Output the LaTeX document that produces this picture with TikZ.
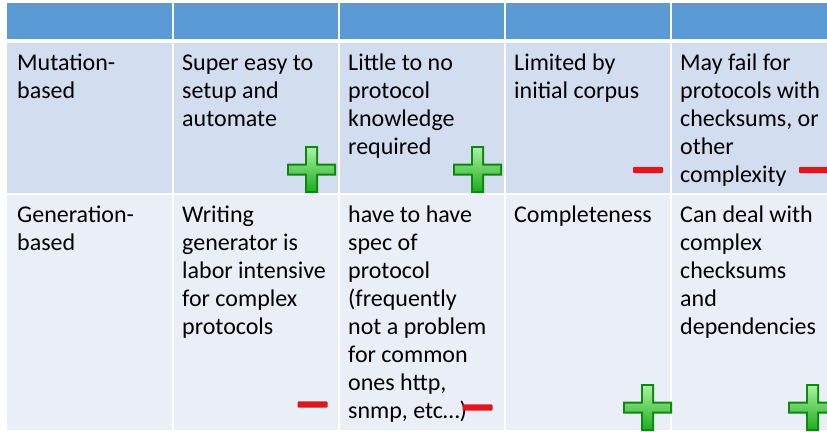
\documentclass[tikz,border=0pt]{standalone}
\usepackage{fontspec}
\setmainfont{Carlito}
\usepackage{xcolor}
\usepackage{tikz}
\usetikzlibrary{positioning}

\definecolor{hdblue}{HTML}{5B9BD5}
\definecolor{bandA}{HTML}{D2DEEF}
\definecolor{bandB}{HTML}{EAEFF7}
\definecolor{plusedge}{HTML}{0E870E}
\definecolor{pluslight}{HTML}{A8F0A0}
\definecolor{plusdark}{HTML}{1FAE1F}
\definecolor{minusred}{HTML}{E0161B}

\begin{document}
\begin{tikzpicture}[
  x=1pt, y=-1pt,
  celltext/.style={anchor=north west, align=left, inner sep=0pt, text=black,
    font=\fontsize{24}{28}\selectfont},
  plusicon/.pic={
    \fill[plusedge] (-24.5,-6) -- (-6.5,-6) -- (-6.5,-23.5) -- (6.5,-23.5) -- (6.5,-6)
      -- (24.5,-6) -- (24.5,6) -- (6.5,6) -- (6.5,23.5) -- (-6.5,23.5) -- (-6.5,6)
      -- (-24.5,6) -- cycle;
    \shade[top color=pluslight, bottom color=plusdark]
      (-22.5,-4) -- (-4.5,-4) -- (-4.5,-21.5) -- (4.5,-21.5) -- (4.5,-4)
      -- (22.5,-4) -- (22.5,4) -- (4.5,4) -- (4.5,21.5) -- (-4.5,21.5) -- (-4.5,4)
      -- (-22.5,4) -- cycle;
  },
  minusicon/.pic={
    \fill[minusred, rounded corners=1pt] (-15,-3.2) rectangle (15,3.2);
  }
]
\useasboundingbox (0,0) rectangle (827,431);
\clip (0,0) rectangle (827,431);

% Table bands
\fill[hdblue] (7,3) rectangle (840,39);
\fill[bandA] (7,43) rectangle (840,193);
\fill[bandB] (7,195) rectangle (840,430);
\foreach \cx in {172.5,338.5,504.5,670.5}
  \draw[white, line width=2pt] (\cx,3) -- (\cx,430);

% Row 1: Mutation-based
\node[celltext] (m1) at (17,50.4) {\strut Mutation-\\based};
\node[celltext] (m2) at (182,50.4) {\strut Super easy to\\setup and\\automate};
\node[celltext] (m3) at (348,50.4) {\strut Little to no\\protocol\\knowledge\\required};
\node[celltext] (m4) at (514,50.4) {\strut Limited by\\initial corpus};
\node[celltext] (m5) at (680,50.4) {\strut May fail for\\protocols with\\checksums, or\\other\\complexity};

% Row 2: Generation-based
\node[celltext] (g1) at (17,202.4) {\strut Generation-\\based};
\node[celltext] (g2) at (182,202.4) {\strut Writing\\generator is\\labor intensive\\for complex\\protocols};
\node[celltext] (g3) at (348,202.4) {\strut have to have\\spec of\\protocol\\(frequently\\not a problem\\for common\\ones http,\\snmp, etc…)};
\node[celltext] (g4) at (514,202.4) {\strut Completeness};
\node[celltext] (g5) at (680,202.4) {\strut Can deal with\\complex\\checksums\\and\\dependencies};

% Pros and cons
\pic at (311.5,169.5) {plusicon};
\pic at (477.5,169.5) {plusicon};
\pic at (648,170) {minusicon};
\pic at (814,170) {minusicon};
\pic at (312.5,404.5) {minusicon};
\pic at (477.5,407.5) {minusicon};
\pic at (647.5,407.5) {plusicon};
\pic at (812.5,407.5) {plusicon};
\end{tikzpicture}
\end{document}
